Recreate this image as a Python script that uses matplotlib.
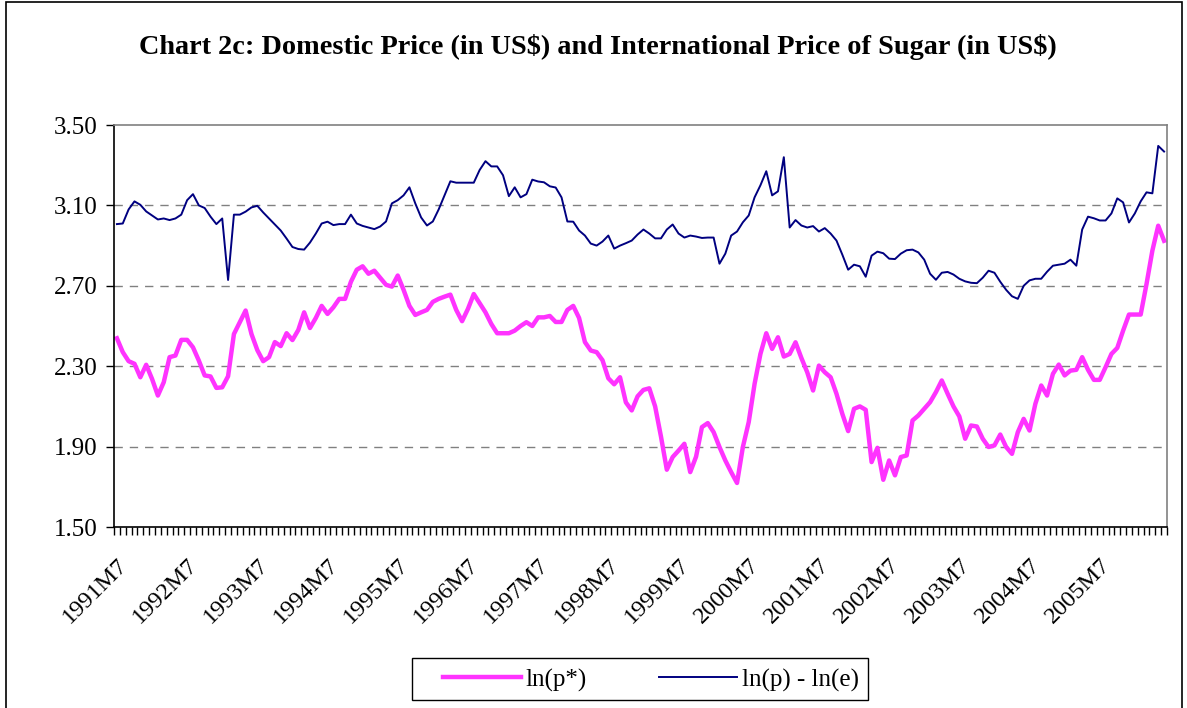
import numpy as np
import matplotlib
matplotlib.use("Agg")
import matplotlib.pyplot as plt
from matplotlib.patches import Rectangle

# monthly data, 1991M7 .. 2006M6
start_year = 1991
n_months = 180

ln_p_star = [
    2.439, 2.370, 2.325, 2.312, 2.245, 2.307, 2.237, 2.154, 2.220, 2.345,
    2.353, 2.431, 2.431, 2.394, 2.328, 2.254, 2.249, 2.192, 2.195, 2.250,
    2.460, 2.519, 2.577, 2.460, 2.380, 2.325, 2.345, 2.420, 2.400, 2.464,
    2.430, 2.480, 2.568, 2.490, 2.540, 2.600, 2.560, 2.593, 2.635, 2.635,
    2.720, 2.780, 2.797, 2.760, 2.775, 2.740, 2.705, 2.696, 2.751, 2.680,
    2.600, 2.555, 2.568, 2.580, 2.620, 2.635, 2.646, 2.656, 2.580, 2.524,
    2.585, 2.659, 2.613, 2.568, 2.510, 2.464, 2.464, 2.464, 2.477, 2.500,
    2.519, 2.500, 2.543, 2.543, 2.550, 2.520, 2.520, 2.580, 2.600, 2.540,
    2.420, 2.378, 2.370, 2.330, 2.240, 2.210, 2.245, 2.120, 2.080, 2.150,
    2.182, 2.190, 2.100, 1.950, 1.785, 1.848, 1.880, 1.914, 1.773, 1.850,
    1.997, 2.017, 1.972, 1.898, 1.831, 1.773, 1.719, 1.898, 2.022, 2.212,
    2.361, 2.464, 2.386, 2.444, 2.348, 2.361, 2.419, 2.341, 2.270, 2.179,
    2.303, 2.270, 2.245, 2.163, 2.063, 1.977, 2.088, 2.100, 2.083, 1.823,
    1.894, 1.735, 1.831, 1.757, 1.848, 1.856, 2.030, 2.055, 2.088, 2.121,
    2.171, 2.229, 2.163, 2.100, 2.050, 1.939, 2.005, 2.000, 1.939, 1.898,
    1.906, 1.960, 1.898, 1.864, 1.972, 2.038, 1.980, 2.113, 2.204, 2.154,
    2.262, 2.308, 2.254, 2.278, 2.282, 2.345, 2.282, 2.232, 2.232, 2.295,
    2.361, 2.391, 2.477, 2.557, 2.557, 2.557, 2.709, 2.875, 2.999, 2.924,
]

ln_p_minus_ln_e = [
    3.007, 3.010, 3.080, 3.120, 3.103, 3.070, 3.050, 3.030, 3.035, 3.027,
    3.035, 3.054, 3.126, 3.156, 3.100, 3.087, 3.044, 3.007, 3.035, 2.729,
    3.054, 3.054, 3.069, 3.090, 3.098, 3.065, 3.035, 3.005, 2.975, 2.935,
    2.893, 2.883, 2.880, 2.915, 2.960, 3.010, 3.019, 3.002, 3.007, 3.007,
    3.054, 3.010, 2.998, 2.990, 2.982, 2.995, 3.020, 3.110, 3.126, 3.150,
    3.190, 3.110, 3.040, 3.000, 3.020, 3.080, 3.150, 3.220, 3.213, 3.213,
    3.213, 3.213, 3.276, 3.320, 3.294, 3.294, 3.250, 3.146, 3.190, 3.140,
    3.156, 3.228, 3.219, 3.215, 3.195, 3.189, 3.140, 3.020, 3.019, 2.975,
    2.950, 2.910, 2.900, 2.920, 2.950, 2.885, 2.900, 2.912, 2.925, 2.955,
    2.980, 2.960, 2.936, 2.936, 2.980, 3.005, 2.960, 2.940, 2.950, 2.945,
    2.938, 2.940, 2.940, 2.810, 2.860, 2.950, 2.970, 3.016, 3.050, 3.140,
    3.200, 3.270, 3.150, 3.170, 3.340, 2.990, 3.027, 3.000, 2.990, 2.997,
    2.970, 2.987, 2.960, 2.925, 2.855, 2.780, 2.805, 2.797, 2.745, 2.850,
    2.870, 2.862, 2.835, 2.833, 2.860, 2.877, 2.880, 2.866, 2.830, 2.760,
    2.730, 2.765, 2.769, 2.756, 2.735, 2.722, 2.715, 2.713, 2.740, 2.775,
    2.765, 2.720, 2.680, 2.648, 2.635, 2.700, 2.727, 2.735, 2.735, 2.770,
    2.800, 2.805, 2.810, 2.830, 2.800, 2.980, 3.044, 3.036, 3.025, 3.025,
    3.060, 3.135, 3.115, 3.015, 3.060, 3.120, 3.165, 3.160, 3.396, 3.368,
]

y_ticks = [1.50, 1.90, 2.30, 2.70, 3.10, 3.50]
label_every = 12
tick_labels = [f"{start_year + k}M7" for k in range(0, 15)]

plt.rcParams["font.family"] = ["Liberation Serif", "DejaVu Serif"]

W, H = 1187, 708
fig = plt.figure(figsize=(W / 100, H / 100), dpi=100)

# outer chart border
fig.patches.append(Rectangle((6 / W, -0.1), (1182 - 6) / W, 1.1 - 2 / H,
                             transform=fig.transFigure, fill=False,
                             edgecolor="black", lw=1.2))
# legend box
fig.patches.append(Rectangle((412 / W, 1 - 700 / H), 456 / W, 42 / H,
                             transform=fig.transFigure, fill=False,
                             edgecolor="black", lw=1.0))

ax = fig.add_axes([114 / W, 1 - 527 / H, 1053 / W, 402 / H])

x = np.arange(n_months)
ax.plot(x, ln_p_star, color="#ff33ff", lw=3.2, label="ln(p*)")
ax.plot(x, ln_p_minus_ln_e, color="#000080", lw=1.4, label="ln(p) - ln(e)")

ax.set_xlim(-0.5, n_months - 0.5)
ax.set_ylim(1.5, 3.5)
ax.set_yticks(y_ticks)
ax.set_yticklabels([f"{v:.2f}" for v in y_ticks], fontsize=18)
for v in y_ticks[1:-1]:
    ax.axhline(v, color="#808080", lw=1.0, ls=(0, (6, 5)), zorder=0)

ax.set_xticks(np.arange(0, n_months, label_every))
ax.set_xticklabels(tick_labels, rotation=45, ha="right", va="top",
                   rotation_mode="anchor", fontsize=17.5)
ax.set_xticks(np.arange(n_months + 1) - 0.5, minor=True)
ax.tick_params(axis="x", which="major", length=0, pad=20)
ax.tick_params(axis="x", which="minor", length=6, width=1, direction="out")
ax.tick_params(axis="y", length=6, width=1, direction="out", pad=6)

ax.spines["top"].set_color("#808080")
ax.spines["right"].set_color("#808080")
for s in ax.spines.values():
    s.set_linewidth(1.2)

fig.text(598 / W, 1 - 47 / H,
         "Chart 2c: Domestic Price (in US\\$) and International Price of Sugar (in US\\$)",
         ha="center", va="center", fontsize=20.3, fontweight="bold")

leg = fig.legend(loc="center", bbox_to_anchor=(651 / W, 1 - 680 / H), ncol=2,
                 fontsize=18, frameon=False,
                 handlelength=3.1, handletextpad=0.2, columnspacing=2.9,
                 borderpad=0.0)

fig.savefig("out.png", dpi=100)
